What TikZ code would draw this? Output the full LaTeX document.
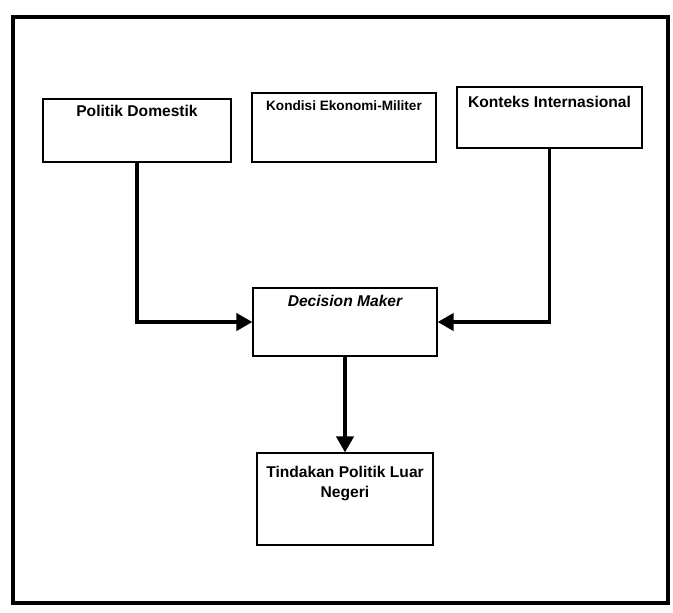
\documentclass[tikz,border=0pt]{standalone}
\usepackage{fontspec}
\setmainfont{Liberation Sans}
\usetikzlibrary{arrows.meta,positioning}

\tikzset{
  blok/.style={draw, line width=1pt, inner sep=0pt, align=center,
    font=\bfseries\fontsize{11.7}{15}\selectfont},
  panah/.style={line width=2.5pt, -{Triangle[length=12pt,width=13pt]}},
}

\begin{document}
\begin{tikzpicture}[x=0.75pt, y=-0.75pt]
                \useasboundingbox (0,0) rectangle (673,612);
                % outer frame
                \draw[line width=2.4pt] (13,17) rectangle (668,603);

                \node[blok, minimum width=141pt, minimum height=47.25pt,
                      text height=12.75pt, text depth=34.5pt] (pd) at (137,130.5) {Politik Domestik};
                \node[blok, minimum width=138pt, minimum height=51.75pt,
                      text height=12.75pt, text depth=39pt,
                      font=\bfseries\fontsize{10.2}{13}\selectfont] (ke) at (344,127.5) {Kondisi Ekonomi-Militer};
                \node[blok, minimum width=138.75pt, minimum height=45.75pt,
                      text height=15pt, text depth=30.75pt] (ki) at (549.5,117.5) {Konteks Internasional};
                \node[blok, minimum width=138pt, minimum height=51pt,
                      text height=13.5pt, text depth=37.5pt,
                      font=\bfseries\itshape\fontsize{11.7}{15}\selectfont] (dm) at (345,322) {Decision Maker};
                % two lines: the base is on the last one
                \node[blok, minimum width=132pt, minimum height=69pt,
                      text height=33pt, text depth=36pt] (tl) at (345,499) {Tindakan Politik Luar\\Negeri};

                \draw[panah] (pd.south) |- (dm.west);
                \draw[panah] (ki.south) |- (dm.east);
                \draw[panah] (dm.south) -- (tl.north);
            \end{tikzpicture}
\end{document}
